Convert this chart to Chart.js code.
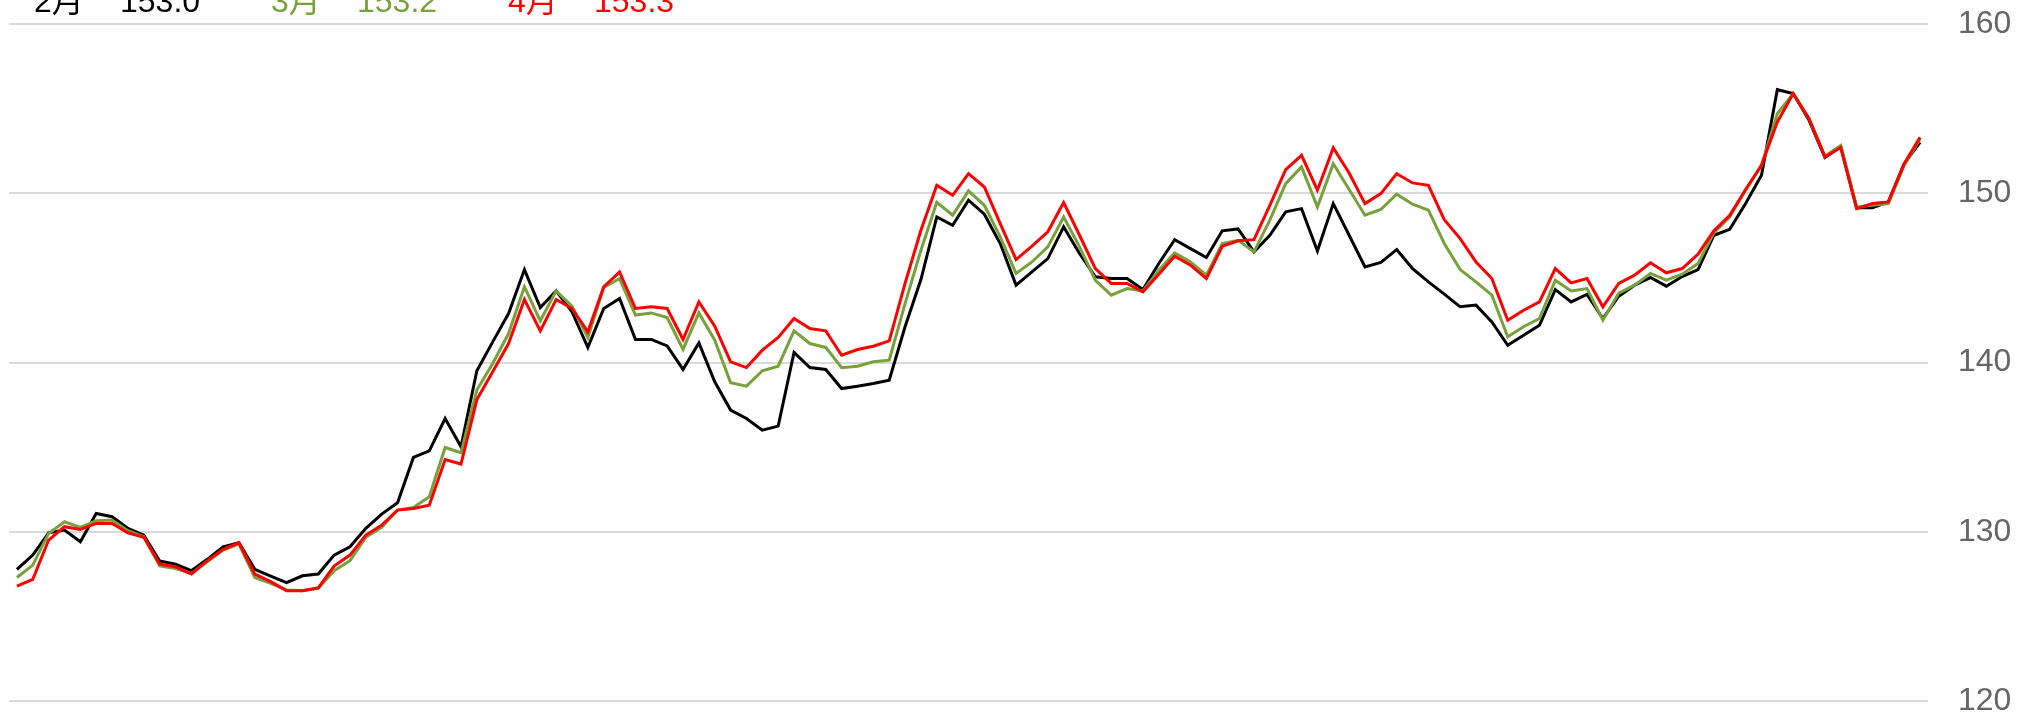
<!DOCTYPE html>
<html>
<head>
<meta charset="utf-8">
<script src="https://cdn.jsdelivr.net/npm/chart.js@4.4.1/dist/chart.umd.min.js"></script>
<style>
  html, body { margin: 0; padding: 0; background: #fff; }
  #wrap { width: 2023px; height: 719px; position: relative; }
</style>
</head>
<body>
<div id="wrap"><canvas id="chart"></canvas></div>
<script>
// series (121 daily points)
const feb = [127.78,128.62,129.94,130.10,129.41,131.08,130.89,130.20,129.80,128.27,
  128.09,127.70,128.37,129.11,129.35,127.78,127.38,126.99,127.40,127.50,
  128.62,129.11,130.20,131.04,131.71,134.39,134.78,136.69,135.02,139.51,
  141.22,142.89,145.49,143.25,144.23,142.99,140.89,143.19,143.78,141.36,
  141.36,140.98,139.59,141.16,138.86,137.19,136.69,136.00,136.24,140.60,
  139.70,139.59,138.46,138.60,138.76,138.96,142.11,144.90,148.60,148.11,
  149.59,148.76,147.03,144.57,145.35,146.14,148.01,146.44,145.06,144.96,
  144.96,144.31,145.85,147.26,146.73,146.20,147.78,147.89,146.54,147.52,
  148.90,149.09,146.59,149.39,147.52,145.65,145.91,146.67,145.55,144.76,
  144.04,143.29,143.39,142.40,141.02,141.61,142.20,144.31,143.58,144.02,
  142.60,143.92,144.57,145.02,144.51,145.08,145.49,147.52,147.87,149.39,
  151.06,156.12,155.89,154.31,152.11,152.74,149.15,149.15,149.49,151.75,
  153.00];

const mar = [127.30,128.03,129.90,130.59,130.26,130.65,130.69,130.06,129.70,127.99,
  127.83,127.54,128.23,128.92,129.27,127.30,126.95,126.56,126.52,126.65,
  127.70,128.29,129.67,130.26,131.28,131.44,132.07,134.98,134.67,138.37,
  139.94,141.71,144.47,142.46,144.23,143.33,141.48,144.43,144.96,142.80,
  142.93,142.66,140.77,142.93,141.32,138.80,138.60,139.51,139.78,141.87,
  141.12,140.89,139.69,139.78,140.04,140.14,143.48,146.63,149.47,148.70,
  150.14,149.29,147.42,145.26,145.94,146.83,148.60,146.83,144.86,143.98,
  144.37,144.23,145.45,146.48,145.94,145.16,147.03,147.22,146.54,148.41,
  150.57,151.56,149.19,151.75,150.22,148.70,149.04,149.94,149.35,149.00,
  147.03,145.49,144.76,143.98,141.52,142.11,142.60,144.86,144.23,144.37,
  142.50,144.10,144.57,145.26,144.86,145.22,145.85,147.66,148.60,150.18,
  151.65,154.70,155.89,154.41,152.19,152.83,149.19,149.29,149.39,151.65,
  153.20];

const apr = [126.79,127.19,129.51,130.30,130.14,130.49,130.49,129.94,129.67,128.09,
  127.93,127.50,128.29,128.96,129.35,127.50,127.05,126.52,126.52,126.69,
  127.97,128.62,129.80,130.39,131.28,131.38,131.57,134.27,134.00,137.81,
  139.45,141.12,143.72,141.87,143.72,143.19,141.81,144.47,145.35,143.19,
  143.29,143.19,141.36,143.58,142.15,140.04,139.70,140.73,141.48,142.60,
  142.01,141.87,140.43,140.77,140.96,141.28,144.67,147.81,150.47,149.88,
  151.16,150.37,148.21,146.08,146.87,147.72,149.45,147.52,145.55,144.67,
  144.67,144.17,145.22,146.28,145.75,144.96,146.87,147.19,147.26,149.29,
  151.40,152.24,150.18,152.68,151.20,149.39,149.98,151.16,150.61,150.47,
  148.44,147.32,145.94,144.96,142.50,143.09,143.58,145.55,144.70,144.96,
  143.29,144.67,145.16,145.89,145.30,145.55,146.40,147.78,148.70,150.22,
  151.65,154.21,155.89,154.41,152.15,152.70,149.09,149.39,149.49,151.75,
  153.30];

const months = ['2月', '3月', '4月'];
const colors = ['#000000', '#76a13b', '#ff0000'];
const yTicks = [120, 130, 140, 150, 160];
const days = feb.map((_, i) => String(i + 1));

const FONT = '"Liberation Sans", Arial, "Noto Sans CJK JP", sans-serif';

// legend row at the very top, partly cut off by the canvas edge
const topLegend = {
  id: 'topLegend',
  afterDraw(chart) {
    const ctx = chart.ctx;
    ctx.save();
    ctx.font = '32px ' + FONT;
    ctx.textBaseline = 'alphabetic';
    ctx.textAlign = 'left';
    chart.data.datasets.slice().sort((a, b) => a.idx - b.idx).forEach(ds => {
      const x = 34 + ds.idx * 237;
      ctx.fillStyle = ds.borderColor;
      ctx.fillText(ds.label, x, 11.5);
      ctx.fillText(ds.data[ds.data.length - 1].toFixed(1), x + 86, 11.5);
    });
    ctx.restore();
  }
};

const series = [feb, mar, apr];
const datasets = series.map((data, i) => ({
  label: months[i],
  idx: i,
  data: data,
  borderColor: colors[i],
  backgroundColor: colors[i],
  borderWidth: 3,
  pointRadius: 0,
  tension: 0,
  fill: false,
  order: 2 - i
}));

new Chart(document.getElementById('chart'), {
  type: 'line',
  data: { labels: days, datasets: datasets },
  options: {
    responsive: true,
    maintainAspectRatio: false,
    animation: false,
    layout: { padding: { left: 9, top: 24, bottom: 18, right: 0 } },
    plugins: {
      legend: { display: false },
      tooltip: { enabled: false }
    },
    scales: {
      x: {
        type: 'category',
        display: false,
        offset: true
      },
      y: {
        position: 'right',
        min: 120,
        max: 160,
        afterFit: scale => {
          scale.width = 95;
          scale.paddingTop = 0;
          scale.paddingBottom = 0;
        },
        afterBuildTicks: scale => { scale.ticks = yTicks.map(v => ({ value: v })); },
        grid: { color: '#d9d9d9', lineWidth: 2, drawTicks: false },
        border: { display: false },
        ticks: {
          padding: 30,
          color: '#666666',
          font: { size: 32, family: FONT }
        }
      }
    }
  },
  plugins: [topLegend]
});
</script>
</body>
</html>
